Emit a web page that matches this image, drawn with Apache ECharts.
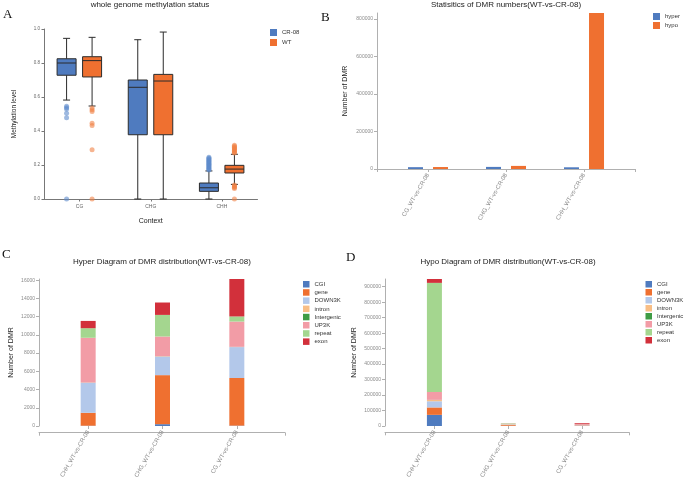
<!DOCTYPE html>
<html><head><meta charset="utf-8">
<script src="https://cdn.jsdelivr.net/npm/echarts@6/dist/echarts.min.js"></script>
<style>html,body{margin:0;padding:0;background:#fff}#c{width:684px;height:481px}</style>
</head><body><div id="c"></div>
<script>
// ---------- Panel A: whole genome methylation status ----------
const contexts = ['CG', 'CHG', 'CHH'];
// [lower whisker, Q1, median, Q3, upper whisker]
const boxCR08 = [[0.582, 0.728, 0.800, 0.825, 0.945], [0.0, 0.378, 0.657, 0.700, 0.937], [0.0, 0.045, 0.066, 0.094, 0.165]];
const boxWT   = [[0.547, 0.718, 0.814, 0.837, 0.951], [0.0, 0.378, 0.694, 0.733, 0.982], [0.086, 0.153, 0.176, 0.198, 0.263]];
const outCR08_CG  = [0.545, 0.537, 0.530, 0.504, 0.478, 0.0];
const outCR08_CHG = [];
const outCR08_CHH = [0.170, 0.175, 0.180, 0.185, 0.190, 0.195, 0.200, 0.205, 0.210, 0.215, 0.220, 0.225, 0.230, 0.235, 0.240, 0.245];
const outWT_CG  = [0.535, 0.525, 0.515, 0.445, 0.432, 0.290, 0.0];
const outWT_CHG = [];
const outWT_CHH = [0.270, 0.275, 0.280, 0.285, 0.290, 0.295, 0.300, 0.305, 0.310, 0.316, 0.082, 0.077, 0.072, 0.067, 0.062, 0.0];

// ---------- Panel B: Statistics of DMR numbers ----------
const dmrCats = ['CG_WT-vs-CR-08', 'CHG_WT-vs-CR-08', 'CHH_WT-vs-CR-08'];
const hyperCounts = [9800, 11200, 9100];
const hypoCounts = [10500, 16500, 832000];

// ---------- Panels C, D: DMR distribution ----------
const distCats = ['CHH_WT-vs-CR-08', 'CHG_WT-vs-CR-08', 'CG_WT-vs-CR-08'];
const features = ['CGI', 'gene', 'DOWN3K', 'intron', 'Intergenic', 'UP3K', 'repeat', 'exon'];
const hyperCGI = [30, 200, 40];
const hyperGene = [1420, 5380, 5230];
const hyperDown3K = [3290, 2030, 3390];
const hyperIntron = [20, 30, 20];
const hyperIntergenic = [10, 10, 10];
const hyperUp3K = [4910, 2170, 2770];
const hyperRepeat = [1050, 2370, 560];
const hyperExon = [800, 1360, 4110];
const hypoCGI = [72000, 1500, 1000];
const hypoGene = [48000, 5500, 3000];
const hypoDown3K = [40000, 2000, 2000];
const hypoIntron = [8000, 1000, 300];
const hypoIntergenic = [1000, 200, 100];
const hypoUp3K = [51000, 1500, 5500];
const hypoRepeat = [705000, 4500, 500];
const hypoExon = [25000, 800, 5500];

const hyperSeries = [hyperCGI, hyperGene, hyperDown3K, hyperIntron, hyperIntergenic, hyperUp3K, hyperRepeat, hyperExon];
const hypoSeries = [hypoCGI, hypoGene, hypoDown3K, hypoIntron, hypoIntergenic, hypoUp3K, hypoRepeat, hypoExon];

// ---------- styles ----------
const FONT = 'Liberation Sans, Arial, sans-serif';
const BLUE = '#4f7bbf', ORANGE = '#ef7030';
const featColors = ['#4f7bbf', '#ef7030', '#b3c8ea', '#f8be86', '#3f9c45', '#f29ca6', '#a4d68f', '#d2303b'];
const BOX_W = 19, CAP_W = 7;

function boxRender(offset) {
  return function (params, api) {
    const c = api.value(0);
    const p = [1, 2, 3, 4, 5].map(i => api.coord([c, api.value(i)]));
    const x = p[0][0] + offset;
    const stroke = '#2b2b2b';
    const ls = { stroke: stroke, lineWidth: 1 };
    return {
      type: 'group', children: [
        { type: 'line', shape: { x1: x, y1: p[0][1], x2: x, y2: p[1][1] }, style: ls },
        { type: 'line', shape: { x1: x, y1: p[3][1], x2: x, y2: p[4][1] }, style: ls },
        { type: 'line', shape: { x1: x - CAP_W / 2, y1: p[0][1], x2: x + CAP_W / 2, y2: p[0][1] }, style: ls },
        { type: 'line', shape: { x1: x - CAP_W / 2, y1: p[4][1], x2: x + CAP_W / 2, y2: p[4][1] }, style: ls },
        { type: 'rect', shape: { x: x - BOX_W / 2, y: p[3][1], width: BOX_W, height: p[1][1] - p[3][1] }, style: { fill: api.visual('color'), stroke: stroke, lineWidth: 1 } },
        { type: 'line', shape: { x1: x - BOX_W / 2, y1: p[2][1], x2: x + BOX_W / 2, y2: p[2][1] }, style: ls }
      ]
    };
  };
}
function boxData(arr) { return arr.map((b, i) => [i].concat(b)); }
function outData(lists) {
  const d = [];
  lists.forEach((l, i) => l.forEach(v => d.push([i, v])));
  return d;
}

const catLabel = { fontSize: 6, color: '#8a8a8a', rotate: 60, interval: 0, fontFamily: FONT, margin: 5 };
const valLabel = { fontSize: 5, color: '#8a8a8a', fontFamily: FONT, margin: 4, showMaxLabel: false, formatter: v => String(v) };
const lightLine = { show: true, lineStyle: { color: '#b0b0b0', width: 1 } };
const lightTick = { show: true, length: 3, lineStyle: { color: '#b0b0b0' } };
const nameStyle = { fontSize: 7, color: '#222', fontFamily: FONT };
const legText = { fontSize: 6, color: '#333', fontFamily: FONT };
const titleText = { fontSize: 8, fontWeight: 'normal', color: '#222', fontFamily: FONT };

const option = {
  animation: false,
  backgroundColor: '#fff',
  textStyle: { fontFamily: FONT },
  title: [
    { text: 'whole genome methylation status', left: 150, top: 1, padding: 0, textAlign: 'center', textStyle: titleText },
    { text: 'Statisitics of DMR numbers(WT-vs-CR-08)', left: 506, top: 1, padding: 0, textAlign: 'center', textStyle: titleText },
    { text: 'Hyper Diagram of DMR distribution(WT-vs-CR-08)', left: 162, top: 258, padding: 0, textAlign: 'center', textStyle: titleText },
    { text: 'Hypo Diagram of DMR distribution(WT-vs-CR-08)', left: 508, top: 258, padding: 0, textAlign: 'center', textStyle: titleText }
  ],
  graphic: [
    { type: 'text', left: 3, top: 8, style: { text: 'A', font: '13px "Liberation Serif", serif', fill: '#111' } },
    { type: 'text', left: 321, top: 11, style: { text: 'B', font: '13px "Liberation Serif", serif', fill: '#111' } },
    { type: 'text', left: 2, top: 248, style: { text: 'C', font: '13px "Liberation Serif", serif', fill: '#111' } },
    { type: 'text', left: 346, top: 251, style: { text: 'D', font: '13px "Liberation Serif", serif', fill: '#111' } }
  ],
  legend: [
    { orient: 'vertical', left: 270, top: 29, padding: 0, itemWidth: 7, itemHeight: 7, itemGap: 3, icon: 'rect', textStyle: legText,
      data: [{ name: 'CR-08', itemStyle: { color: BLUE } }, { name: 'WT', itemStyle: { color: ORANGE } }] },
    { orient: 'vertical', left: 653, top: 13, padding: 0, itemWidth: 7, itemHeight: 7, itemGap: 2, icon: 'rect', textStyle: legText, data: ['hyper', 'hypo'] },
    { orient: 'vertical', left: 303, top: 281, padding: 0, itemWidth: 6.5, itemHeight: 6.5, itemGap: 1.7, icon: 'rect', textStyle: legText, data: features },
    { orient: 'vertical', left: 645.5, top: 281, padding: 0, itemWidth: 6.5, itemHeight: 6.5, itemGap: 1.5, icon: 'rect', textStyle: legText, data: features }
  ],
  grid: [
    { left: 44, top: 29, width: 213.5, height: 170 },
    { left: 389, top: 13, width: 234, height: 156 },
    { left: 51, top: 279, width: 223, height: 153.7 },
    { left: 397.5, top: 279, width: 221.5, height: 153.3 },
    { left: 377, top: 13, width: 258, height: 156 },
    { left: 39, top: 279, width: 246, height: 153.7 },
    { left: 385, top: 279, width: 244, height: 153.3 }
  ],
  xAxis: [
    { type: 'category', gridIndex: 0, data: contexts,
      axisLine: { show: true, lineStyle: { color: '#777' } },
      axisTick: { show: true, alignWithLabel: true, length: 2.5, lineStyle: { color: '#777' } },
      axisLabel: { fontSize: 5, color: '#666', margin: 5 },
      name: 'Context', nameLocation: 'middle', nameGap: 19, nameTextStyle: nameStyle },
    { type: 'category', gridIndex: 1, data: dmrCats, axisLine: { show: false },
      axisTick: Object.assign({ alignWithLabel: true }, lightTick), axisLabel: catLabel },
    { type: 'category', gridIndex: 2, data: distCats, axisLine: { show: false },
      axisTick: Object.assign({ alignWithLabel: true }, lightTick), axisLabel: catLabel },
    { type: 'category', gridIndex: 3, data: distCats, axisLine: { show: false },
      axisTick: Object.assign({ alignWithLabel: true }, lightTick), axisLabel: catLabel },
    { type: 'value', gridIndex: 4, min: 0, max: 1, interval: 1, axisLine: lightLine, axisTick: lightTick, axisLabel: { show: false }, splitLine: { show: false } },
    { type: 'value', gridIndex: 5, min: 0, max: 1, interval: 1, axisLine: lightLine, axisTick: lightTick, axisLabel: { show: false }, splitLine: { show: false } },
    { type: 'value', gridIndex: 6, min: 0, max: 1, interval: 1, axisLine: lightLine, axisTick: lightTick, axisLabel: { show: false }, splitLine: { show: false } }
  ],
  yAxis: [
    { type: 'value', gridIndex: 0, min: 0, max: 1, interval: 0.2,
      axisLine: { show: true, lineStyle: { color: '#777' } },
      axisTick: { show: true, length: 2.5, lineStyle: { color: '#777' } },
      axisLabel: { fontSize: 4.5, color: '#666', margin: 4, formatter: v => v.toFixed(1) },
      splitLine: { show: false },
      name: 'Methylation level', nameLocation: 'middle', nameGap: 26, nameTextStyle: { fontSize: 6.5, color: '#222', fontFamily: FONT } },
    { type: 'value', gridIndex: 1, min: 0, max: 'dataMax', interval: 200000, offset: 12,
      axisLine: lightLine, axisTick: lightTick, axisLabel: valLabel, splitLine: { show: false },
      name: 'Number of DMR', nameLocation: 'middle', nameGap: 28, nameTextStyle: nameStyle },
    { type: 'value', gridIndex: 2, min: 0, max: 'dataMax', interval: 2000, offset: 12,
      axisLine: lightLine, axisTick: lightTick, axisLabel: valLabel, splitLine: { show: false },
      name: 'Number of DMR', nameLocation: 'middle', nameGap: 24, nameTextStyle: nameStyle },
    { type: 'value', gridIndex: 3, min: 0, max: 'dataMax', interval: 100000, offset: 12.5,
      axisLine: lightLine, axisTick: lightTick, axisLabel: valLabel, splitLine: { show: false },
      name: 'Number of DMR', nameLocation: 'middle', nameGap: 27, nameTextStyle: nameStyle },
    { type: 'value', gridIndex: 4, min: 0, max: 1, show: false },
    { type: 'value', gridIndex: 5, min: 0, max: 1, show: false },
    { type: 'value', gridIndex: 6, min: 0, max: 1, show: false }
  ],
  series: []
};

// Panel A series
option.series.push(
  { type: 'custom', name: 'CR-08', xAxisIndex: 0, yAxisIndex: 0, itemStyle: { color: BLUE },
    renderItem: boxRender(-13), encode: { x: 0, y: [1, 2, 3, 4, 5] }, data: boxData(boxCR08), z: 2 },
  { type: 'custom', name: 'WT', xAxisIndex: 0, yAxisIndex: 0, itemStyle: { color: ORANGE },
    renderItem: boxRender(12.5), encode: { x: 0, y: [1, 2, 3, 4, 5] }, data: boxData(boxWT), z: 2 },
  { type: 'scatter', name: 'CR-08', xAxisIndex: 0, yAxisIndex: 0, symbolSize: 5, symbolOffset: [-13, 0],
    itemStyle: { color: 'rgba(93,138,204,0.75)' }, data: outData([outCR08_CG, outCR08_CHG, outCR08_CHH]), z: 3 },
  { type: 'scatter', name: 'WT', xAxisIndex: 0, yAxisIndex: 0, symbolSize: 5, symbolOffset: [12.5, 0],
    itemStyle: { color: 'rgba(240,130,70,0.75)' }, data: outData([outWT_CG, outWT_CHG, outWT_CHH]), z: 3 }
);
// Panel B
option.series.push(
  { type: 'bar', name: 'hyper', xAxisIndex: 1, yAxisIndex: 1, barWidth: 15, barGap: '67%', itemStyle: { color: BLUE }, data: hyperCounts },
  { type: 'bar', name: 'hypo', xAxisIndex: 1, yAxisIndex: 1, barWidth: 15, barGap: '67%', itemStyle: { color: ORANGE }, data: hypoCounts }
);
// Panels C, D
features.forEach((f, i) => {
  option.series.push({ type: 'bar', name: f, stack: 'hyper', xAxisIndex: 2, yAxisIndex: 2, barWidth: 15,
    itemStyle: { color: featColors[i] }, data: hyperSeries[i] });
});
features.forEach((f, i) => {
  option.series.push({ type: 'bar', name: f, stack: 'hypo', xAxisIndex: 3, yAxisIndex: 3, barWidth: 15,
    itemStyle: { color: featColors[i] }, data: hypoSeries[i] });
});

const chart = echarts.init(document.getElementById('c'), null, { renderer: 'canvas' });
chart.setOption(option);
</script>
</body></html>
